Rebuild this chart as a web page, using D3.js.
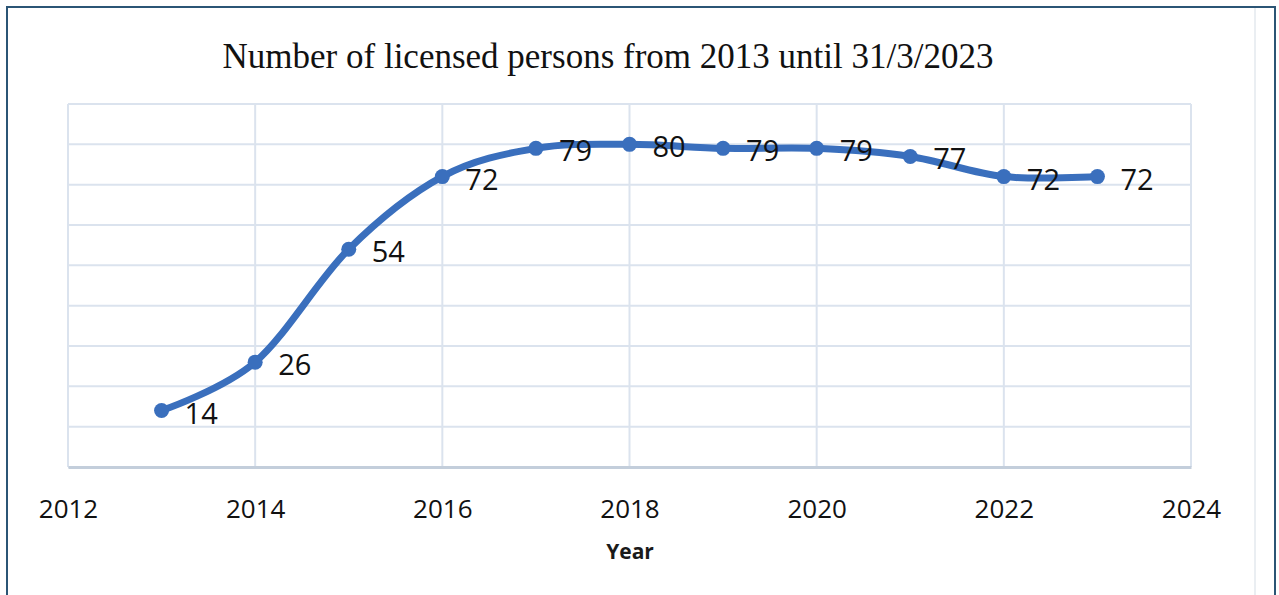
<!DOCTYPE html>
<html>
<head>
<meta charset="utf-8">
<script src="https://cdn.jsdelivr.net/npm/d3@7"></script>
<style>
  body { margin: 0; background: #fff; }
  svg { display: block; }
</style>
</head>
<body>
<svg id="chart" width="1279" height="595"></svg>
<script>
var years = [2013, 2014, 2015, 2016, 2017, 2018, 2019, 2020, 2021, 2022, 2023];
var persons = [14, 26, 54, 72, 79, 80, 79, 79, 77, 72, 72];
var xTicks = [2012, 2014, 2016, 2018, 2020, 2022, 2024];
var yGrid = [0, 10, 20, 30, 40, 50, 60, 70, 80, 90];
var title = 'Number of licensed persons from 2013 until 31/3/2023';
var xTitle = 'Year';

var svg = d3.select('#chart');

// outer frame
svg.append('rect').attr('x', 7).attr('y', 7).attr('width', 1268).attr('height', 600)
    .attr('fill', 'none').attr('stroke', '#2b5575').attr('stroke-width', 2);
svg.append('line').attr('x1', 1255).attr('x2', 1255).attr('y1', 8).attr('y2', 595)
    .attr('stroke', '#e3e8ee').attr('stroke-width', 1.5);

var x = d3.scaleLinear().domain([2012, 2024]).range([68, 1191]);
var y = d3.scaleLinear().domain([0, 90]).range([467, 104]);

// grid
var grid = svg.append('g');
grid.selectAll('line.h').data(yGrid).enter().append('line')
    .attr('x1', x(2012)).attr('x2', x(2024))
    .attr('y1', function (d) { return y(d); }).attr('y2', function (d) { return y(d); })
    .attr('stroke', '#dbe3ee').attr('stroke-width', 2);
grid.selectAll('line.v').data(xTicks).enter().append('line')
    .attr('x1', function (d) { return x(d); }).attr('x2', function (d) { return x(d); })
    .attr('y1', y(90)).attr('y2', y(0))
    .attr('stroke', '#dbe3ee').attr('stroke-width', 2);

// x axis
var xAxis = svg.append('g').attr('transform', 'translate(0,' + y(0) + ')')
    .call(d3.axisBottom(x).tickValues(xTicks).tickFormat(d3.format('d')).tickSize(0).tickPadding(33));
xAxis.select('.domain').attr('stroke', '#c3cedb').attr('stroke-width', 3);
xAxis.selectAll('text').attr('font-family', '"Open Sans", sans-serif').attr('font-size', 26)
    .attr('fill', '#111');

svg.append('text').attr('x', 630).attr('y', 559).attr('text-anchor', 'middle')
    .attr('font-family', '"Open Sans", sans-serif').attr('font-weight', 'bold').attr('font-size', 21)
    .attr('fill', '#1a1a1a').text(xTitle);

svg.append('text').attr('x', 608).attr('y', 68).attr('text-anchor', 'middle')
    .attr('font-family', '"Liberation Serif", serif').attr('font-size', 35)
    .attr('fill', '#111').text(title);

// series
var pts = years.map(function (yr, i) { return { x: yr, v: persons[i] }; });
var line = d3.line()
    .x(function (d) { return x(d.x); })
    .y(function (d) { return y(d.v); })
    .curve(d3.curveCatmullRom.alpha(0));
svg.append('path').datum(pts).attr('d', line)
    .attr('fill', 'none').attr('stroke', '#3a6fbd').attr('stroke-width', 7)
    .attr('stroke-linecap', 'round');
svg.selectAll('circle.pt').data(pts).enter().append('circle')
    .attr('cx', function (d) { return x(d.x); })
    .attr('cy', function (d) { return y(d.v); })
    .attr('r', 7.5).attr('fill', '#3a6fbd');
svg.selectAll('text.lbl').data(pts).enter().append('text')
    .attr('x', function (d) { return x(d.x) + 23; })
    .attr('y', function (d) { return y(d.v) + 13; })
    .attr('font-family', '"Open Sans", sans-serif').attr('font-size', 29)
    .attr('fill', '#111')
    .text(function (d) { return d.v; });
</script>
</body>
</html>
